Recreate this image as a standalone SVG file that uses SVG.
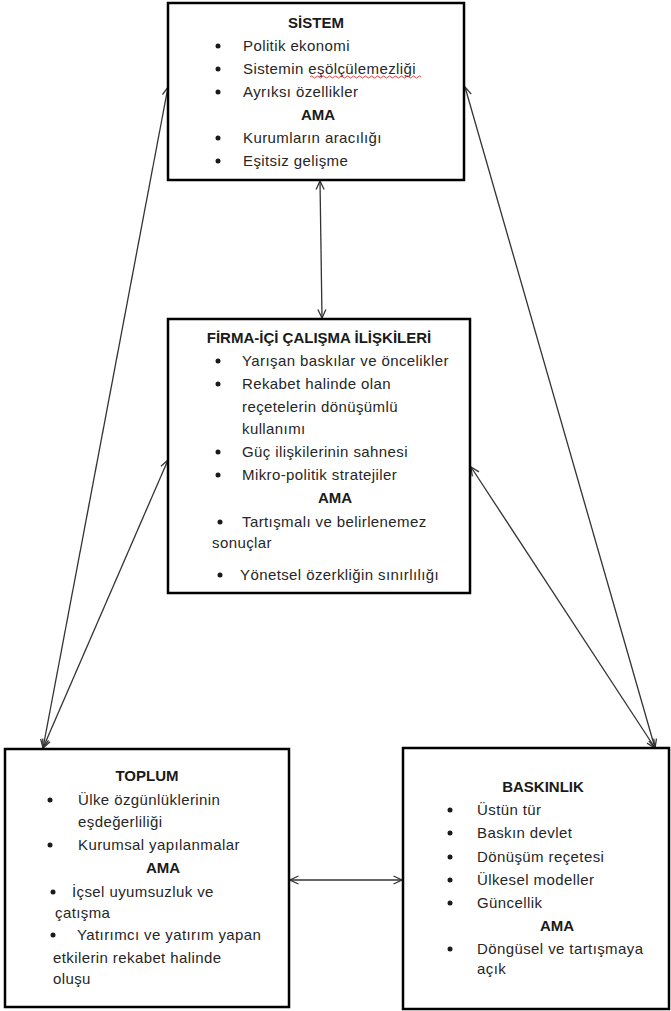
<svg xmlns="http://www.w3.org/2000/svg" width="671" height="1011" viewBox="0 0 671 1011">
  <style>
    .box { fill: #ffffff; stroke: #000000; stroke-width: 2.5; }
    .t { font-family: "Liberation Sans", Arial, sans-serif; font-size: 15px; letter-spacing: 0.4px; fill: #262626; }
    .h { font-family: "Liberation Sans", Arial, sans-serif; font-size: 15px; font-weight: bold; fill: #1a1a1a; text-anchor: middle; }
    .b { fill: #1a1a1a; }
    .link { fill: none; stroke: #333333; stroke-width: 1.3; marker-start: url(#tip); marker-end: url(#tip); }
  </style>
  <defs>
    <marker id="tip" viewBox="0 0 10 10" refX="9.5" refY="5" markerWidth="10" markerHeight="10" markerUnits="userSpaceOnUse" orient="auto-start-reverse">
      <path d="M1,1 L9.5,5 L1,9" fill="none" stroke="#333333" stroke-width="1.3"/>
    </marker>
  </defs>
  <rect width="671" height="1011" fill="#ffffff"/>

  <!-- connectors -->
  <g id="connectors">
    <line class="link" x1="320" y1="181" x2="322" y2="318"/>
    <line class="link" x1="168" y1="87" x2="43" y2="748"/>
    <line class="link" x1="168" y1="460" x2="43" y2="748"/>
    <line class="link" x1="465" y1="87" x2="655" y2="748"/>
    <line class="link" x1="471" y1="467" x2="655" y2="748"/>
    <line class="link" x1="290" y1="880" x2="402" y2="880"/>
  </g>

  <!-- top: system -->
  <g id="sistem">
    <rect class="box" x="168" y="3" width="296" height="177"/>
    <text class="h" x="316" y="28">SİSTEM</text>
    <circle class="b" cx="218" cy="46" r="2.5"/>
    <text class="t" x="243" y="51">Politik ekonomi</text>
    <circle class="b" cx="218" cy="69" r="2.5"/>
    <text class="t" x="243" y="74">Sistemin eşölçülemezliği</text>
    <path d="M310,77 q1.5,-2 3,0 t3,0 t3,0 t3,0 t3,0 t3,0 t3,0 t3,0 t3,0 t3,0 t3,0 t3,0 t3,0 t3,0 t3,0 t3,0 t3,0 t3,0 t3,0 t3,0 t3,0 t3,0 t3,0 t3,0 t3,0 t3,0 t3,0 t3,0 t3,0 t3,0 t3,0 t3,0 t3,0 t3,0 t3,0 t3,0 t3,0" fill="none" stroke="#e03030" stroke-width="0.9"/>
    <circle class="b" cx="218" cy="92" r="2.5"/>
    <text class="t" x="243" y="97">Ayrıksı özellikler</text>
    <text class="h" x="318" y="120">AMA</text>
    <circle class="b" cx="218" cy="138" r="2.5"/>
    <text class="t" x="243" y="143">Kurumların aracılığı</text>
    <circle class="b" cx="218" cy="161" r="2.5"/>
    <text class="t" x="243" y="166">Eşitsiz gelişme</text>
  </g>

  <!-- middle: in-firm labour relations -->
  <g id="firma">
    <rect class="box" x="168" y="319" width="302" height="274"/>
    <text class="h" x="319" y="343">FİRMA-İÇİ ÇALIŞMA İLİŞKİLERİ</text>
    <circle class="b" cx="218" cy="361" r="2.5"/>
    <text class="t" x="242" y="366">Yarışan baskılar ve öncelikler</text>
    <circle class="b" cx="218" cy="384" r="2.5"/>
    <text class="t" x="242" y="389">Rekabet halinde olan</text>
    <text class="t" x="242" y="412">reçetelerin dönüşümlü</text>
    <text class="t" x="242" y="434">kullanımı</text>
    <circle class="b" cx="218" cy="452" r="2.5"/>
    <text class="t" x="242" y="457">Güç ilişkilerinin sahnesi</text>
    <circle class="b" cx="218" cy="475" r="2.5"/>
    <text class="t" x="242" y="480">Mikro-politik stratejiler</text>
    <text class="h" x="335" y="503">AMA</text>
    <circle class="b" cx="220" cy="522" r="2.5"/>
    <text class="t" x="242" y="527">Tartışmalı  ve belirlenemez</text>
    <text class="t" x="212" y="548">sonuçlar</text>
    <circle class="b" cx="220" cy="575" r="2.5"/>
    <text class="t" x="240" y="580">Yönetsel özerkliğin sınırlılığı</text>
  </g>

  <!-- bottom left: society -->
  <g id="toplum">
    <rect class="box" x="5" y="749" width="284" height="258"/>
    <text class="h" x="147" y="781">TOPLUM</text>
    <circle class="b" cx="50" cy="800" r="2.5"/>
    <text class="t" x="78" y="805">Ülke özgünlüklerinin</text>
    <text class="t" x="78" y="827">eşdeğerliliği</text>
    <circle class="b" cx="50" cy="845" r="2.5"/>
    <text class="t" x="78" y="850">Kurumsal yapılanmalar</text>
    <text class="h" x="163" y="873">AMA</text>
    <circle class="b" cx="53" cy="892" r="2.5"/>
    <text class="t" x="72" y="897">İçsel uyumsuzluk ve</text>
    <text class="t" x="55" y="918">çatışma</text>
    <circle class="b" cx="53" cy="935" r="2.5"/>
    <text class="t" x="77" y="940">Yatırımcı ve yatırım yapan</text>
    <text class="t" x="53" y="963">etkilerin rekabet halinde</text>
    <text class="t" x="53" y="984">oluşu</text>
  </g>

  <!-- bottom right: dominance -->
  <g id="baskinlik">
    <rect class="box" x="403" y="748" width="266" height="261"/>
    <text class="h" x="543" y="792">BASKINLIK</text>
    <circle class="b" cx="450" cy="810" r="2.5"/>
    <text class="t" x="477" y="815">Üstün tür</text>
    <circle class="b" cx="450" cy="833" r="2.5"/>
    <text class="t" x="477" y="838">Baskın devlet</text>
    <circle class="b" cx="450" cy="857" r="2.5"/>
    <text class="t" x="477" y="862">Dönüşüm reçetesi</text>
    <circle class="b" cx="450" cy="880" r="2.5"/>
    <text class="t" x="477" y="885">Ülkesel modeller</text>
    <circle class="b" cx="450" cy="903" r="2.5"/>
    <text class="t" x="477" y="908">Güncellik</text>
    <text class="h" x="557" y="931">AMA</text>
    <circle class="b" cx="450" cy="949" r="2.5"/>
    <text class="t" x="477" y="954">Döngüsel ve tartışmaya</text>
    <text class="t" x="477" y="974">açık</text>
  </g>
</svg>
